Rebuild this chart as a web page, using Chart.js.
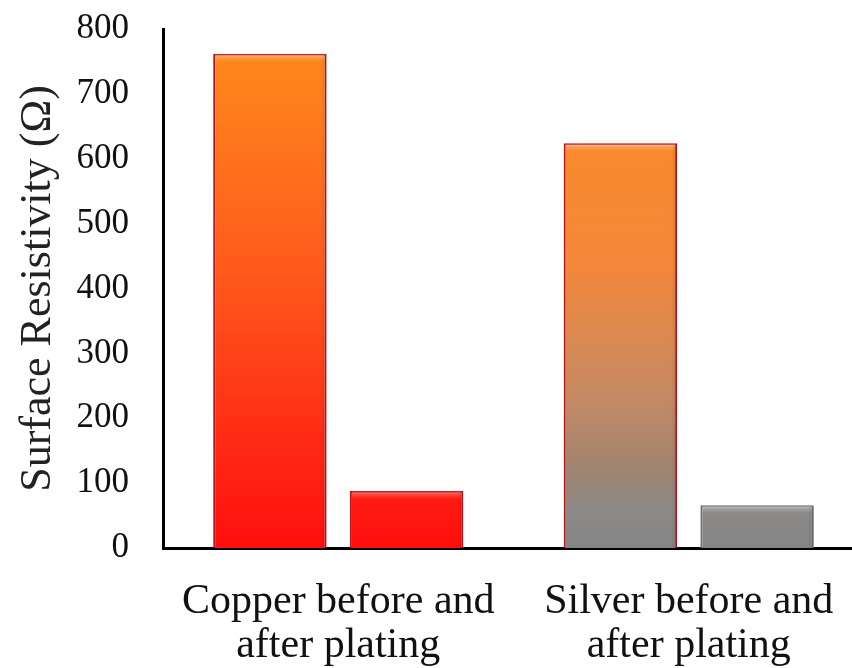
<!DOCTYPE html>
<html>
<head>
<meta charset="utf-8">
<script src="https://cdn.jsdelivr.net/npm/chart.js@4"></script>
<style>
  html, body { margin: 0; padding: 0; background: #fff; }
  #wrap { width: 852px; height: 668px; overflow: hidden; position: relative; }
  #inner { width: 864px; height: 668px; position: absolute; left: 0; top: 0; }
</style>
</head>
<body>
<div id="wrap"><div id="inner"><canvas id="c"></canvas></div></div>
<script>
const categories = [["Copper before and", "after plating"], ["Silver before and", "after plating"]];
const beforeValues = [762, 624];
const afterValues = [88, 66];
const yTicks = [0, 100, 200, 300, 400, 500, 600, 700, 800];
const axisTitle = "Surface Resistivity (\u03A9)";

const FONT = "'Liberation Serif', 'Times New Roman', serif";

function gradientFor(chart, idx) {
  const area = chart.chartArea;
  if (!area) return idx === 0 ? '#ff4a16' : '#c8885e';
  const g = chart.ctx.createLinearGradient(0, area.top, 0, area.bottom);
  if (idx === 0) {
    g.addColorStop(0, '#ff8e1c');
    g.addColorStop(0.45, '#ff5c1c');
    g.addColorStop(0.8, '#ff2a14');
    g.addColorStop(1, '#ff0e0e');
  } else {
    g.addColorStop(0, '#ff8a1e');
    g.addColorStop(0.45, '#f4873a');
    g.addColorStop(0.7, '#c88a62');
    g.addColorStop(0.85, '#a08472');
    g.addColorStop(0.93, '#8c8a88');
    g.addColorStop(1, '#858585');
  }
  return g;
}

const bevel = {
  id: 'bevel',
  afterDatasetsDraw(chart) {
    const ctx = chart.ctx;
    chart.data.datasets.forEach((ds, di) => {
      const meta = chart.getDatasetMeta(di);
      meta.data.forEach((bar) => {
        const p = bar.getProps(['x', 'y', 'base', 'width'], true);
        const l = p.x - p.width / 2, r = p.x + p.width / 2, t = p.y;
        ctx.save();
        const hg = ctx.createLinearGradient(0, t, 0, t + 8);
        hg.addColorStop(0, 'rgba(255,255,255,0.35)');
        hg.addColorStop(1, 'rgba(255,255,255,0)');
        ctx.fillStyle = hg;
        ctx.fillRect(l + 2, t + 1, p.width - 4, 8);
        const sg = ctx.createLinearGradient(r - 6, 0, r, 0);
        sg.addColorStop(0, 'rgba(0,0,0,0)');
        sg.addColorStop(1, 'rgba(0,0,0,0.12)');
        ctx.fillStyle = sg;
        ctx.fillRect(r - 6, t + 2, 5, p.base - t - 2);
        ctx.restore();
      });
    });
  }
};

new Chart(document.getElementById('c'), {
  type: 'bar',
  data: {
    labels: categories,
    datasets: [
      {
        label: 'Before plating',
        data: beforeValues,
        backgroundColor: (c) => gradientFor(c.chart, c.dataIndex),
        borderColor: '#b8141a',
        borderWidth: 2,
        borderSkipped: 'bottom'
      },
      {
        label: 'After plating',
        data: afterValues,
        backgroundColor: (c) => gradientFor(c.chart, c.dataIndex),
        borderColor: (c) => c.dataIndex === 0 ? '#c0141a' : '#6e6e6e',
        borderWidth: 2,
        borderSkipped: 'bottom'
      }
    ]
  },
  options: {
    responsive: true,
    maintainAspectRatio: false,
    animation: false,
    events: [],
    layout: { padding: { top: 29, left: 0, right: 0, bottom: 0 } },
    categoryPercentage: 0.78,
    barPercentage: 0.83,
    plugins: {
      legend: { display: false },
      tooltip: { enabled: false },
      title: { display: false }
    },
    scales: {
      x: {
        grid: { display: false, drawTicks: false },
        border: { display: true, color: '#000', width: 3 },
        ticks: {
          color: '#111',
          font: { family: FONT, size: 42, lineHeight: 1.07 },
          padding: 31,
          maxRotation: 0,
          autoSkip: false
        },
        afterFit(scale) { scale.height = 120; scale.paddingLeft = 0; scale.paddingRight = 0; }
      },
      y: {
        min: 0,
        max: 800,
        afterBuildTicks(scale) { scale.ticks = yTicks.map(v => ({ value: v })); },
        grid: { display: false, drawTicks: false },
        border: { display: true, color: '#000', width: 3 },
        ticks: {
          color: '#111',
          font: { family: FONT, size: 35 },
          padding: 34
        },
        title: {
          display: true,
          text: axisTitle,
          color: '#222',
          font: { family: FONT, size: 44 },
          padding: { top: 12, bottom: 0 }
        },
        afterFit(scale) { scale.width = 163; scale.paddingTop = 0; scale.paddingBottom = 0; }
      }
    }
  },
  plugins: [bevel]
});
</script>
</body>
</html>
